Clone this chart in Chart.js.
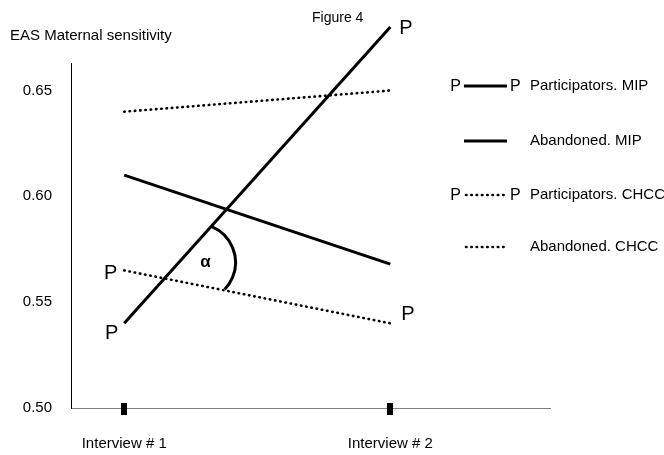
<!DOCTYPE html>
<html>
<head>
<meta charset="utf-8">
<script src="https://cdn.jsdelivr.net/npm/chart.js@4.4.1/dist/chart.umd.min.js"></script>
<style>
  html, body { margin: 0; padding: 0; background: #fff; }
</style>
</head>
<body>
<canvas id="fig4" width="664" height="455"></canvas>
<script>
// data
const interviews = [1, 2];
const interviewLabels = ["Interview # 1", "Interview # 2"];
const yTicks = [0.50, 0.55, 0.60, 0.65];
const participatorsMIP = [0.54, 0.68];
const abandonedMIP = [0.61, 0.568];
const participatorsCHCC = [0.565, 0.54];
const abandonedCHCC = [0.64, 0.65];
const seriesNames = ["Participators. MIP", "Abandoned. MIP", "Participators. CHCC", "Abandoned. CHCC"];

const FONT = '"Liberation Sans", Arial, sans-serif';
const DOTS = [0.5, 4.8];

function pts(vals) {
  return interviews.map((x, i) => ({ x, y: vals[i] }));
}

function lineDs(label, vals, dotted) {
  return {
    label,
    data: pts(vals),
    borderColor: "#000",
    borderWidth: dotted ? 2.6 : 3,
    borderDash: dotted ? DOTS : [],
    borderCapStyle: dotted ? "round" : "butt",
    pointRadius: 0,
    tension: 0,
    clip: false
  };
}

// texts, P markers, alpha arc, legend
const decor = {
  id: "decor",
  afterDraw(chart) {
    const c = chart.ctx;
    const xs = chart.scales.x, ys = chart.scales.y;
    const px = v => xs.getPixelForValue(v);
    const py = v => ys.getPixelForValue(v);
    c.save();
    c.fillStyle = "#000";
    c.strokeStyle = "#000";

    c.font = `15px ${FONT}`;
    c.textBaseline = "middle";
    c.textAlign = "left";
    c.fillText("EAS Maternal sensitivity", 10, 36);
    c.font = `14px ${FONT}`;
    c.fillText("Figure 4", 312, 18);

    // tick marks on the x axis
    interviews.forEach(v => {
      c.fillRect(Math.round(px(v)) - 3, Math.round(py(0.5)) - 5, 6, 12);
    });

    // P markers at the ends of the participator lines
    c.font = `20px ${FONT}`;
    const p = (x, y, align) => { c.textAlign = align; c.fillText("P", x, y); };
    p(px(1) - 6, py(participatorsMIP[0]) + 10, "right");
    p(px(2) + 9, py(participatorsMIP[1]) + 1, "left");
    p(px(1) - 7, py(participatorsCHCC[0]) + 3, "right");
    p(px(2) + 11, py(participatorsCHCC[1]) - 9, "left");

    // angle between the two participator lines
    const a1 = { x: px(1), y: py(participatorsMIP[0]) }, a2 = { x: px(2), y: py(participatorsMIP[1]) };
    const b1 = { x: px(1), y: py(participatorsCHCC[0]) }, b2 = { x: px(2), y: py(participatorsCHCC[1]) };
    const ma = (a2.y - a1.y) / (a2.x - a1.x), mb = (b2.y - b1.y) / (b2.x - b1.x);
    const ix = (b1.y - a1.y + ma * a1.x - mb * b1.x) / (ma - mb);
    const iy = a1.y + ma * (ix - a1.x);
    c.lineWidth = 3;
    c.beginPath();
    c.arc(ix + 32, iy - 16, 39, -67 * Math.PI / 180, 44 * Math.PI / 180);
    c.stroke();
    c.font = `bold 17px ${FONT}`;
    c.textAlign = "center";
    c.fillText("\u03b1", ix + 41, iy - 16);

    // legend
    const rows = [
      { y: 86, dotted: false, withP: true },
      { y: 141, dotted: false, withP: false },
      { y: 195, dotted: true, withP: true },
      { y: 247, dotted: true, withP: false }
    ];
    rows.forEach((r, i) => {
      c.lineWidth = r.dotted ? 2.6 : 3;
      c.lineCap = r.dotted ? "round" : "butt";
      c.setLineDash(r.dotted ? DOTS : []);
      c.beginPath();
      c.moveTo(r.dotted ? 466 : 464, r.y);
      c.lineTo(507, r.y);
      c.stroke();
      c.setLineDash([]);
      if (r.withP) {
        c.font = `16px ${FONT}`;
        c.textAlign = "right";
        c.fillText("P", 461, r.y + 1);
        c.textAlign = "left";
        c.fillText("P", 510, r.y + 1);
      }
      c.font = `15px ${FONT}`;
      c.textAlign = "left";
      c.fillText(seriesNames[i], 530, r.y);
    });
    c.restore();
  }
};

new Chart(document.getElementById("fig4"), {
  type: "line",
  data: {
    datasets: [
      lineDs(seriesNames[0], participatorsMIP, false),
      lineDs(seriesNames[1], abandonedMIP, false),
      lineDs(seriesNames[2], participatorsCHCC, true),
      lineDs(seriesNames[3], abandonedCHCC, true)
    ]
  },
  options: {
    responsive: false,
    animation: false,
    devicePixelRatio: 1,
    layout: { padding: { top: 63, right: 114, left: 0, bottom: 0 } },
    plugins: { legend: { display: false }, tooltip: { enabled: false } },
    scales: {
      x: {
        type: "linear",
        min: 0.8,
        max: 2.6,
        afterFit: s => { s.height = 47; },
        afterBuildTicks: s => { s.ticks = interviews.map(v => ({ value: v })); },
        ticks: {
          padding: 27,
          color: "#000",
          font: { family: FONT, size: 15 },
          maxRotation: 0,
          callback: v => interviewLabels[interviews.indexOf(v)]
        },
        grid: { display: false, drawTicks: false },
        border: { display: true, color: "#808080", width: 1 }
      },
      y: {
        min: 0.5,
        max: 0.663,
        afterFit: s => { s.width = 71; },
        afterBuildTicks: s => { s.ticks = yTicks.map(v => ({ value: v })); },
        ticks: {
          padding: 19,
          color: "#000",
          font: { family: FONT, size: 15 },
          callback: v => v.toFixed(2)
        },
        grid: { display: false, drawTicks: false },
        border: { display: true, color: "#000", width: 1 }
      }
    }
  },
  plugins: [decor]
});
</script>
</body>
</html>
